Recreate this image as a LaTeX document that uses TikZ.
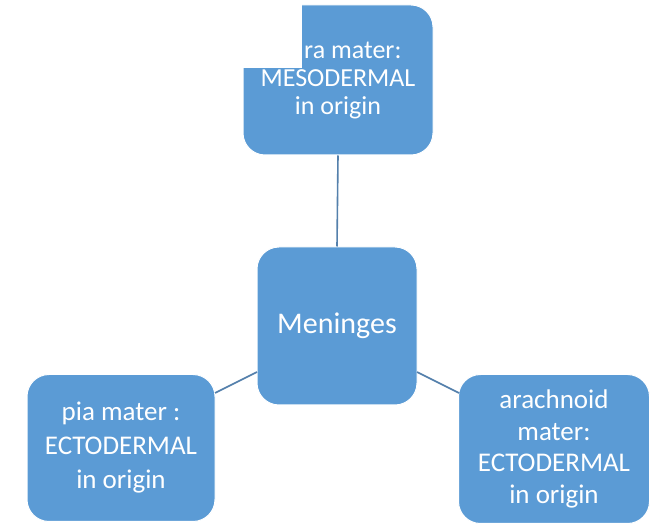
\documentclass[tikz,border=0pt]{standalone}
\usepackage{fontspec}
\setmainfont{Carlito}
\definecolor{boxblue}{RGB}{91,155,213}
\definecolor{linkblue}{RGB}{84,128,172}
\begin{document}
\begin{tikzpicture}[x=1pt,y=-1pt,
  box/.style={draw=white, line width=1pt, fill=boxblue, rounded corners=22pt,
    text=white, align=center, inner sep=0pt},
  link/.style={draw=linkblue, line width=1.6pt}]
\useasboundingbox (0,0) rectangle (654,526);
\fill[white] (0,0) rectangle (654,526);
\node[box, minimum width=190pt, minimum height=150pt,
  font=\fontsize{26}{28}\selectfont] (dura) at (338,80) {\phantom{Du}ra mater:\\MESODERMAL\\in origin};
\node[box, minimum width=160pt, minimum height=158pt,
  font=\fontsize{30}{34}\selectfont] (men) at (337,326) {Meninges};
\node[box, minimum width=188pt, minimum height=147pt,
  font=\fontsize{27}{34}\selectfont] (pia) at (121,448) {pia mater :\\ECTODERMAL\\in origin};
\node[box, minimum width=191pt, minimum height=149pt,
  font=\fontsize{27}{31.5}\selectfont] (arach) at (554,449) {arachnoid\\mater:\\ECTODERMAL\\in origin};
\coordinate (mL) at (257,372);
\coordinate (mR) at (417,372);
\coordinate (pR) at (215,393);
\coordinate (aL) at (459,393);
\draw[link] (dura.south) -- (men.north);
\draw[link] (mL) -- (pR);
\draw[link] (mR) -- (aL);
\fill[white] (0,0) rectangle (302,68);
\end{tikzpicture}
\end{document}
